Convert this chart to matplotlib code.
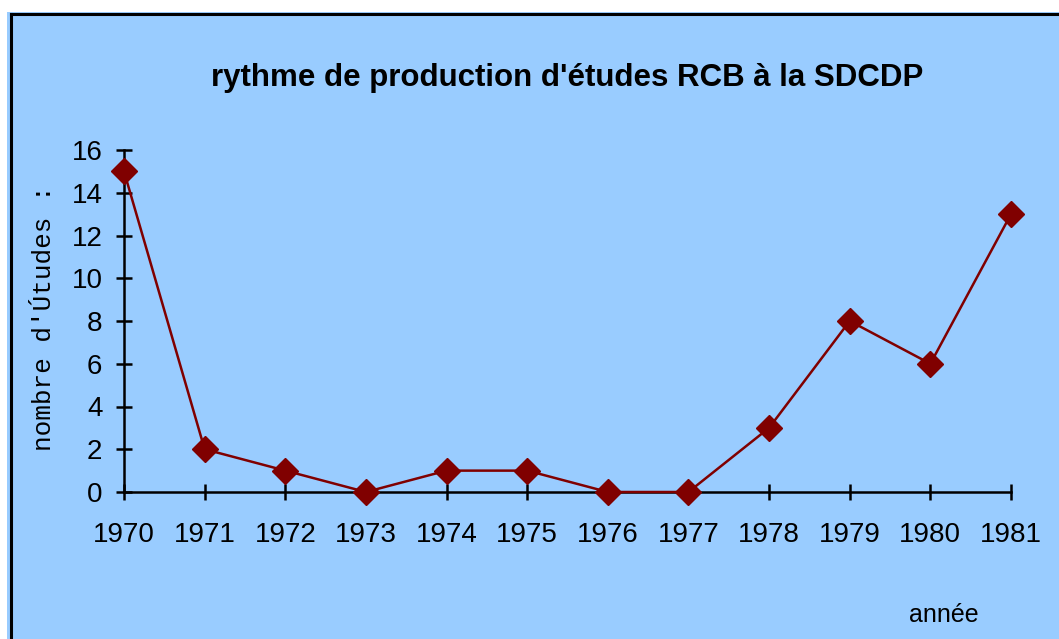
import matplotlib.pyplot as plt
import matplotlib as mpl
from matplotlib.patches import Rectangle
from matplotlib.lines import Line2D
mpl.use('Agg')

# data
years = [1970, 1971, 1972, 1973, 1974, 1975, 1976, 1977, 1978, 1979, 1980, 1981]
etudes = [15, 2, 1, 0, 1, 1, 0, 0, 3, 8, 6, 13]
yticks = [0, 2, 4, 6, 8, 10, 12, 14, 16]

W, H = 1059, 639
fig = plt.figure(figsize=(W / 100, H / 100), dpi=100)
fig.patch.set_facecolor('white')

# blue chart area with black border on top/left
bg = '#99ccff'
fig.patches.append(Rectangle((7 / W, 0), 1, 1 - 12 / H, transform=fig.transFigure,
                             facecolor=bg, edgecolor='none', zorder=0))
fig.lines.append(Line2D([11 / W, 11 / W], [0, 1 - 14 / H], transform=fig.transFigure,
                        color='black', lw=2.2))
fig.lines.append(Line2D([11 / W, 1], [1 - 14 / H, 1 - 14 / H], transform=fig.transFigure,
                        color='black', lw=2.2))

ax = fig.add_axes([124 / W, 1 - 492 / H, (1011 - 124) / W, (492 - 150) / H])
ax.set_zorder(3)
ax.patch.set_alpha(0)

ax.plot(years, etudes, color='#800000', lw=1.8, marker='D', markersize=13,
        markerfacecolor='#800000', markeredgecolor='#800000', clip_on=False, zorder=5)

ax.set_xlim(1970, 1981)
ax.set_ylim(0, 16)
ax.set_xticks(years)
ax.set_yticks(yticks)
for s in ['top', 'right']:
    ax.spines[s].set_visible(False)
for s in ['left', 'bottom']:
    ax.spines[s].set_linewidth(1.8)
ax.tick_params(direction='inout', length=11, width=1.8, labelsize=20)
ax.tick_params(axis='x', pad=16)
ax.tick_params(axis='y', pad=10)
for lab in ax.get_xticklabels() + ax.get_yticklabels():
    lab.set_fontfamily('Liberation Sans')

fig.text(567 / W, 1 - 78 / H, "rythme de production d'études RCB à la SDCDP",
         ha='center', va='center', fontsize=22.5, fontweight='bold', family='Liberation Sans')
fig.text(44 / W, 1 - 318 / H, "nombre d'Útudes :", rotation=90, ha='center', va='center',
         fontsize=18.8, family='Liberation Mono')
fig.text(944 / W, 1 - 615 / H, 'année', ha='center', va='center',
         fontsize=18, family='Liberation Sans')

plt.savefig('out.png', dpi=100)
